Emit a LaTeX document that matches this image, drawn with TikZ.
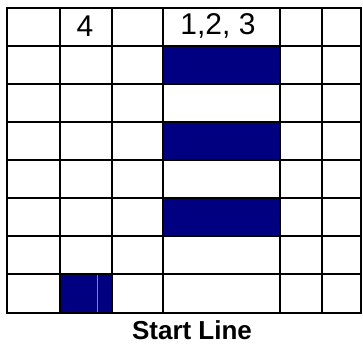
\documentclass[tikz,border=0pt]{standalone}
\usepackage{fontspec}
\setmainfont{Liberation Sans}
\definecolor{lanenavy}{RGB}{0,0,128}

\begin{document}
\begin{tikzpicture}[x=1pt, y=-1pt, line cap=rect]
  \useasboundingbox (0,0) rectangle (363,345);
  % Các ô tô màu
  \fill[lanenavy] (163,46) rectangle (280,84);
  \fill[lanenavy] (163,122) rectangle (280,160);
  \fill[lanenavy] (163,198) rectangle (280,236);
  \fill[lanenavy] (60,274) rectangle (112,313);
  \draw[lanenavy!50!white, line width=0.8pt, line cap=butt] (97,275) -- (97,312);
  % Lưới
  \foreach \x in {7,60,112,163,280,322,361}
    \draw[line width=1.8pt] (\x,8) -- (\x,313);
  \foreach \y in {8,46,84,122,160,198,236,274,313}
    \draw[line width=1.8pt] (7,\y) -- (361,\y);
  % Nhãn
  \node (four) at (85,26) {\fontsize{30}{32}\selectfont 4};
  \node (lanes) at (218,26) {\fontsize{30}{32}\selectfont 1,2, 3};
  \node (start) at (192,330) {\fontsize{26}{28}\selectfont\bfseries Start Line};
\end{tikzpicture}
\end{document}
